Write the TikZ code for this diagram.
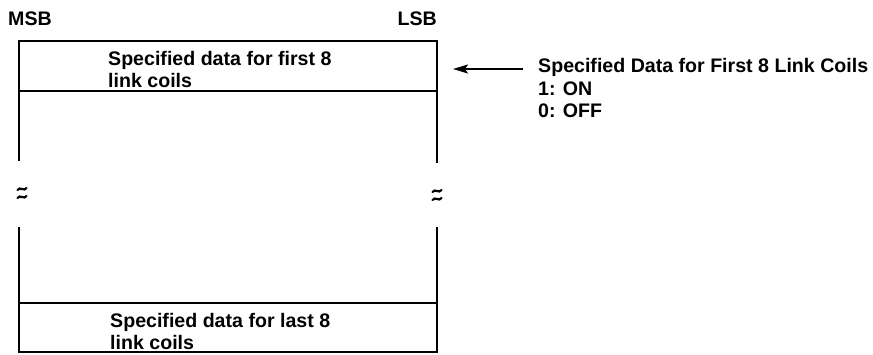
\documentclass[tikz,border=0pt]{standalone}
\usepackage{fontspec}
\setmainfont{Liberation Sans}
\usetikzlibrary{arrows.meta}
\begin{document}
\begin{tikzpicture}[x=1pt,y=-1pt,
  txt/.style={inner sep=0pt, anchor=base west, font=\bfseries\fontsize{19.6}{22.5}\selectfont},
  frame/.style={line width=2pt, line cap=rect},
  brk/.style={line width=2.2pt, line cap=round},
  ptr/.style={line width=1.8pt, -{Stealth[length=15pt,width=9pt,inset=3pt]}}]
\useasboundingbox (0,0) rectangle (873,354);
% labels above
\node[txt] (msb) at (8,25) {MSB};
\node[txt, anchor=base east] (lsb) at (437,25) {LSB};
% frame coordinates
\coordinate (tl) at (19,41);   \coordinate (tr) at (437,41);
\coordinate (ml) at (19,91);   \coordinate (mr) at (437,91);
\coordinate (el) at (19,160);  \coordinate (er) at (437,162);
\coordinate (sl) at (19,228);  \coordinate (sr) at (437,228);
\coordinate (nl) at (19,303);  \coordinate (nr) at (437,303);
\coordinate (bl) at (19,352);  \coordinate (br) at (437,352);
% upper part
\draw[frame] (el) -- (tl) -- (tr) -- (er);
\draw[frame] (ml) -- (mr);
% lower part
\draw[frame] (sl) -- (bl) -- (br) -- (sr);
\draw[frame] (nl) -- (nr);
% break marks
\foreach \x/\y in {22/189, 22/197, 437/191, 437/199}{
  \draw[brk] (\x-4.5,\y+1) .. controls (\x-2,\y-3) and (\x+2,\y+3) .. (\x+4.5,\y-1);
}
% row texts
\node[txt] (first1) at (108,65) {Specified data for first 8};
\node[txt] (first2) at (108,87) {link coils};
\node[txt] (last1) at (110,327) {Specified data for last 8};
\node[txt] (last2) at (110,349) {link coils};
% description
\node[txt] (desc1) at (538,72) {Specified Data for First 8 Link Coils};
\node[txt] (desc2) at (538,95) {1: ON};
\node[txt] (desc3) at (538,117) {0: OFF};
\coordinate (tail) at (523,69);
\coordinate (tip) at (453,69);
\draw[ptr] (tail) -- (tip);
\end{tikzpicture}
\end{document}
